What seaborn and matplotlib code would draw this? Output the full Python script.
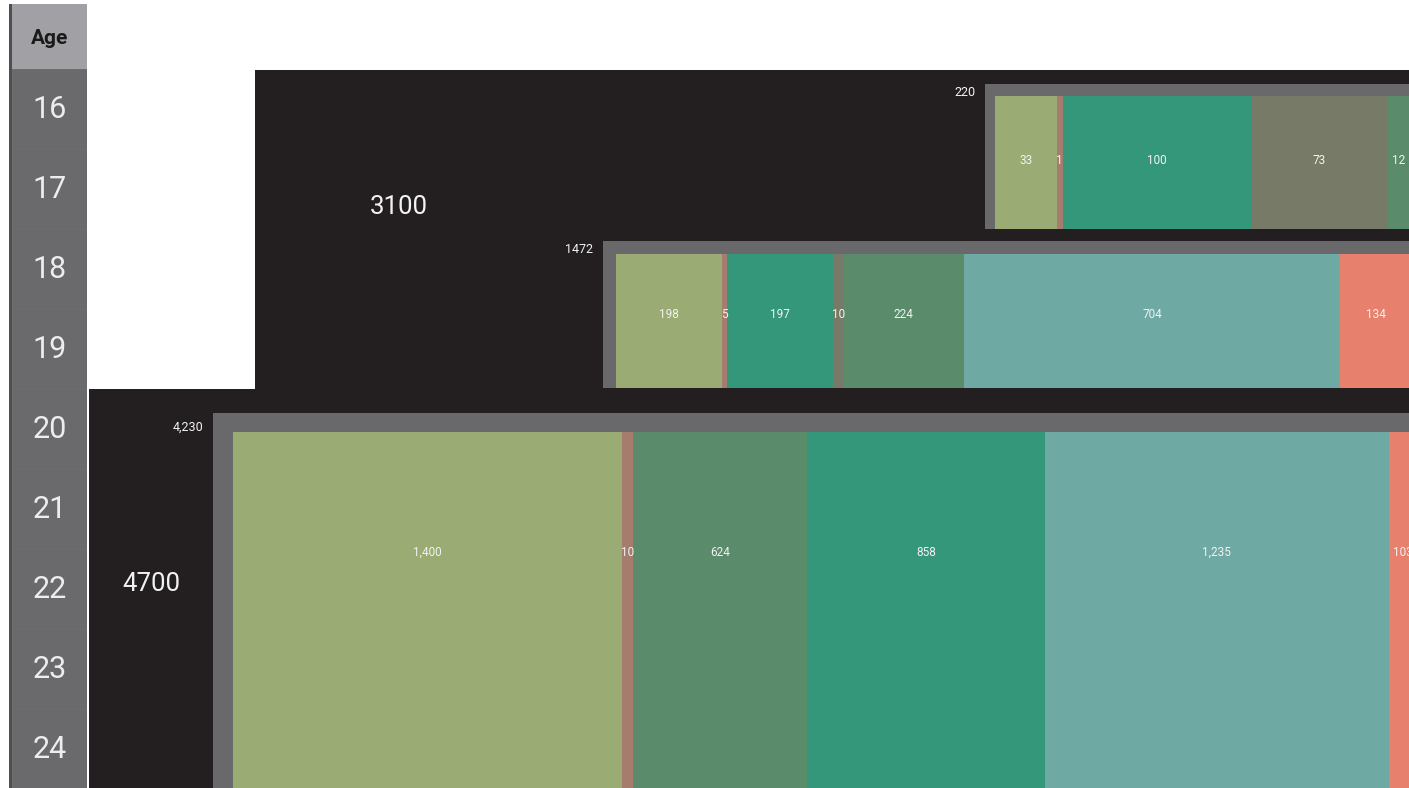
import numpy as np
import matplotlib
matplotlib.use("Agg")
import matplotlib.pyplot as plt
from matplotlib.colors import ListedColormap
from matplotlib.patches import Rectangle
import seaborn as sns

# data
ages = [16, 17, 18, 19, 20, 21, 22, 23, 24]
group_labels = ["3100", "4700"]
total_labels = ["220", "1472", "4,230"]

seg_220 = [33, 1, 100, 73, 12]
seg_1472 = [198, 5, 197, 10, 224, 704, 134]
seg_4230 = [1400, 10, 624, 858, 1235, 103]

kind_220 = ["olive", "rose", "teal", "khaki", "sage"]
kind_1472 = ["olive", "rose", "teal", "khaki", "sage", "aqua", "salmon"]
kind_4230 = ["olive", "rose", "sage", "teal", "aqua", "salmon"]

palette = {
    "olive": "#9aab74",
    "rose": "#a67c6e",
    "teal": "#34977a",
    "khaki": "#767a66",
    "sage": "#5a8b6b",
    "aqua": "#6ea9a3",
    "salmon": "#e8806e",
}

sns.set_theme(style="white")
plt.rcParams["font.family"] = ["Roboto", "DejaVu Sans"]

W, H = 1409, 788
BLACK = "#231f20"
FRAME = "#69696b"
TXT = "#f2f2f2"

fig = plt.figure(figsize=(W / 100, H / 100), dpi=100)
fig.patch.set_facecolor("white")

bg = fig.add_axes([0, 0, 1, 1])
bg.set_xlim(0, W)
bg.set_ylim(H, 0)
bg.axis("off")


def px_axes(x0, y0, x1, y1):
    return fig.add_axes([x0 / W, 1 - y1 / H, (x1 - x0) / W, (y1 - y0) / H])


def rect(x0, y0, x1, y1, c):
    bg.add_patch(Rectangle((x0, y0), x1 - x0, y1 - y0, color=c, lw=0))


# black group blocks
rect(255, 70, W + 5, 389, BLACK)
rect(89, 389, W + 5, H + 5, BLACK)
bg.text(399, 207, group_labels[0], color=TXT, fontsize=18.5, ha="center", va="center")
bg.text(151, 584, group_labels[1], color=TXT, fontsize=18.5, ha="center", va="center")

# grey frames + totals
frames = [
    # frame x0, frame y0, inner x0, inner y0, y1, px per unit, label y, total pos
    (985, 84, 995, 96, 229, 1.88, 160, (976, 92)),
    (603, 241, 616, 254, 388, 0.535, 314, (593, 249)),
    (213, 413, 233, 432, H + 2, 0.278, 552, (203, 427)),
]
segments = [seg_220, seg_1472, seg_4230]
kinds = [kind_220, kind_1472, kind_4230]

for (fx, fy, ix, iy, y1, ppu, ly, tpos), vals, kk, tot in zip(frames, segments, kinds, total_labels):
    rect(fx, fy, W + 5, y1, FRAME)
    bg.text(tpos[0], tpos[1], tot, color=TXT, fontsize=9, ha="right", va="center")

    ax = px_axes(ix, iy, W, y1)
    vals = np.array(vals, dtype=float)
    labels = [f"{int(v):,}" for v in vals]
    # tiny segments get at least the room of their label
    min_w = np.array([5.5 * len(s) for s in labels]) / ppu
    widths = np.maximum(vals, min_w)
    lefts = np.concatenate([[0], np.cumsum(widths)[:-1]])
    ax.barh(0.5, widths, left=lefts, height=1.0,
            color=[palette[k] for k in kk], linewidth=0)
    ax.set_xlim(0, (W - ix) / ppu)
    ax.set_ylim(0, 1)
    ax.axis("off")
    yfrac = 1 - (ly - iy) / (y1 - iy)
    for c, s in zip(lefts + widths / 2, labels):
        ax.text(c, yfrac, s, color=TXT, fontsize=8.5, ha="center", va="center")

# age column
rect(9, 4, 12, H + 2, "#4f4f51")
rect(12, 4, 87, 69, "#a1a1a5")
bg.text(49.5, 38, "Age", color="#1a1a1a", fontsize=15, fontweight="bold",
        ha="center", va="center")

ax_age = px_axes(12, 69, 87, 69 + 80 * len(ages))
sns.heatmap(np.zeros((len(ages), 1)), ax=ax_age,
            cmap=ListedColormap(["#6a6a6c"]), cbar=False,
            annot=np.array(ages).reshape(-1, 1), fmt="d",
            annot_kws=dict(size=22, color="#ededed"),
            linewidths=0.4, linecolor="#6d6d6f",
            xticklabels=False, yticklabels=False)
ax_age.set_xlabel("")
ax_age.set_ylabel("")

fig.savefig("out.png", dpi=100, facecolor="white")
